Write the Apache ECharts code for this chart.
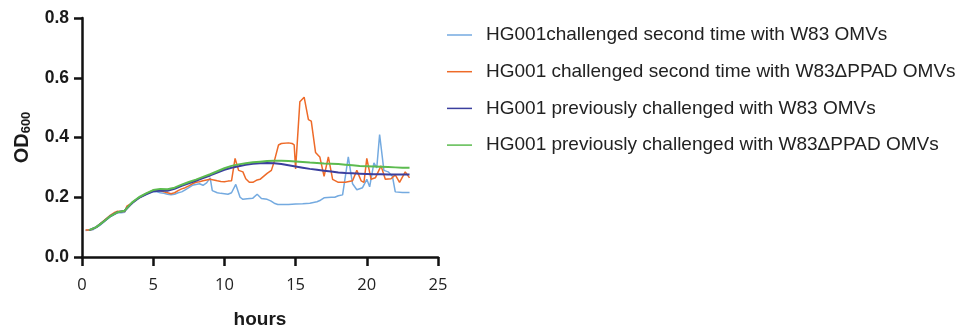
<!DOCTYPE html>
<html>
<head>
<meta charset="utf-8">
<script src="https://cdn.jsdelivr.net/npm/echarts@6/dist/echarts.min.js"></script>
<style>
  html, body { margin: 0; padding: 0; background: #ffffff; }
  #chart { width: 970px; height: 327px; }
</style>
</head>
<body>
<div id="chart"></div>
<script>
// series names (legend order)
const seriesNames = [
  "HG001challenged second time with W83 OMVs",
  "HG001 challenged second time with W83\u0394PPAD OMVs",
  "HG001 previously challenged with W83 OMVs",
  "HG001 previously challenged with W83\u0394PPAD OMVs",
];
const seriesColors = ["#74aae0", "#ee6a28", "#3b3f9e", "#5cbb4f"];

// noisy curves: sampled at irregular times (hours)
const hoursSecondW83 = [0.25, 0.5, 0.75, 1.0, 1.25, 1.5, 1.75, 2.0, 2.25, 2.5, 2.75, 3.0, 3.15, 3.25, 3.5, 3.75, 4.0, 4.25, 4.5, 4.75, 5.0, 5.25, 5.5, 5.75, 6.0, 6.25, 6.5, 6.75, 7.0, 7.25, 7.5, 7.75, 8.0, 8.25, 8.5, 8.75, 9.0, 9.15, 9.5, 9.75, 10.0, 10.25, 10.5, 10.8, 11.1, 11.3, 11.6, 12.0, 12.3, 12.6, 13.0, 13.25, 13.5, 13.75, 14.0, 14.5, 15.0, 15.5, 16.0, 16.5, 16.75, 17.0, 17.5, 17.75, 18.0, 18.3, 18.7, 19.0, 19.3, 19.7, 20.0, 20.2, 20.5, 20.7, 20.9, 21.2, 21.5, 21.8, 22.0, 22.5, 23.0];
const odSecondW83 = [0.089, 0.09, 0.091, 0.098, 0.106, 0.116, 0.126, 0.135, 0.142, 0.148, 0.148, 0.15, 0.168, 0.168, 0.178, 0.19, 0.198, 0.204, 0.21, 0.215, 0.218, 0.218, 0.215, 0.213, 0.21, 0.208, 0.21, 0.215, 0.218, 0.225, 0.232, 0.24, 0.243, 0.245, 0.24, 0.248, 0.265, 0.222, 0.215, 0.213, 0.212, 0.21, 0.215, 0.243, 0.2, 0.193, 0.195, 0.197, 0.21, 0.196, 0.193, 0.188, 0.18, 0.176, 0.176, 0.176, 0.177, 0.178, 0.18, 0.185, 0.19, 0.198, 0.2, 0.2, 0.205, 0.208, 0.335, 0.245, 0.225, 0.232, 0.26, 0.235, 0.315, 0.298, 0.41, 0.29, 0.285, 0.27, 0.218, 0.216, 0.216];

const hoursSecondPPAD = [0.25, 0.5, 0.75, 1.0, 1.25, 1.5, 1.75, 2.0, 2.25, 2.5, 2.75, 3.0, 3.15, 3.25, 3.5, 3.75, 4.0, 4.25, 4.5, 4.75, 5.0, 5.25, 5.5, 5.75, 6.0, 6.25, 6.5, 6.75, 7.0, 7.25, 7.5, 7.75, 8.0, 8.25, 8.5, 8.75, 9.0, 9.25, 9.5, 9.75, 10.0, 10.25, 10.5, 10.75, 11.0, 11.3, 11.5, 11.75, 12.0, 12.3, 12.5, 12.75, 13.0, 13.3, 13.5, 13.8, 14.0, 14.5, 14.75, 14.9, 15.0, 15.3, 15.6, 15.9, 16.1, 16.4, 16.7, 17.0, 17.3, 17.6, 18.0, 18.5, 19.0, 19.3, 19.6, 19.8, 20.0, 20.3, 20.6, 21.0, 21.3, 21.7, 22.0, 22.3, 22.7, 23.0];
const odSecondPPAD = [0.09, 0.09, 0.093, 0.1, 0.11, 0.12, 0.13, 0.14, 0.148, 0.153, 0.152, 0.152, 0.17, 0.172, 0.18, 0.19, 0.198, 0.205, 0.212, 0.218, 0.224, 0.225, 0.222, 0.218, 0.215, 0.212, 0.215, 0.222, 0.228, 0.232, 0.238, 0.245, 0.25, 0.252, 0.255, 0.258, 0.26, 0.258, 0.255, 0.253, 0.252, 0.254, 0.255, 0.33, 0.29, 0.285, 0.262, 0.25, 0.25, 0.258, 0.26, 0.27, 0.28, 0.29, 0.32, 0.375, 0.38, 0.382, 0.38, 0.375, 0.295, 0.52, 0.535, 0.46, 0.455, 0.35, 0.335, 0.27, 0.335, 0.26, 0.25, 0.25, 0.255, 0.29, 0.255, 0.25, 0.33, 0.26, 0.265, 0.305, 0.26, 0.262, 0.275, 0.25, 0.285, 0.265];

// smooth curves: every half hour
const hoursPrevious = [0.5, 1.0, 1.5, 2.0, 2.5, 3.0, 3.5, 4.0, 4.5, 5.0, 5.5, 6.0, 6.5, 7.0, 7.5, 8.0, 8.5, 9.0, 9.5, 10.0, 10.5, 11.0, 11.5, 12.0, 12.5, 13.0, 13.5, 14.0, 14.5, 15.0, 15.5, 16.0, 16.5, 17.0, 17.5, 18.0, 18.5, 19.0, 19.5, 20.0, 20.5, 21.0, 21.5, 22.0, 22.5, 23.0];
const odPreviousW83 = [0.09, 0.1, 0.118, 0.137, 0.15, 0.155, 0.18, 0.198, 0.21, 0.22, 0.222, 0.222, 0.228, 0.238, 0.247, 0.255, 0.264, 0.273, 0.283, 0.292, 0.299, 0.304, 0.309, 0.312, 0.314, 0.315, 0.314, 0.311, 0.307, 0.303, 0.299, 0.295, 0.292, 0.289, 0.286, 0.283, 0.281, 0.28, 0.279, 0.278, 0.277, 0.277, 0.276, 0.276, 0.276, 0.276];
const odPreviousPPAD = [0.09, 0.1, 0.118, 0.137, 0.15, 0.155, 0.182, 0.2, 0.213, 0.224, 0.228, 0.227, 0.232, 0.242, 0.251, 0.259, 0.268, 0.277, 0.287, 0.297, 0.305, 0.31, 0.314, 0.317, 0.319, 0.321, 0.322, 0.322, 0.321, 0.32, 0.318, 0.316, 0.315, 0.313, 0.312, 0.311, 0.309, 0.307, 0.305, 0.304, 0.303, 0.302, 0.301, 0.3, 0.299, 0.299];

const seriesHours = [hoursSecondW83, hoursSecondPPAD, hoursPrevious, hoursPrevious];
const seriesOD = [odSecondW83, odSecondPPAD, odPreviousW83, odPreviousPPAD];
const lineWidths = [1.5, 1.5, 2, 2];

const chart = echarts.init(document.getElementById("chart"));

const font = "'Liberation Sans', Arial, sans-serif";

const option = {
  backgroundColor: "#ffffff",
  animation: false,
  textStyle: { fontFamily: font },
  grid: {
    left: 82,
    right: 532,
    top: 18,
    bottom: 70,
    outerBoundsMode: "none",
  },
  legend: {
    orient: "vertical",
    left: 442,
    top: 19,
    icon: "rect",
    itemWidth: 25,
    itemHeight: 1.5,
    itemGap: 14.7,
    data: seriesNames,
    textStyle: {
      fontFamily: font,
      fontSize: 19,
      color: "#222222",
      lineHeight: 22,
      padding: [0, 0, 0, 9],
    },
  },
  xAxis: {
    type: "value",
    min: 0,
    max: 25,
    interval: 5,
    name: "hours",
    nameLocation: "middle",
    nameGap: 53,
    nameTextStyle: { fontFamily: font, fontSize: 19, fontWeight: "bold", color: "#1a1a1a" },
    axisLine: { onZero: false, lineStyle: { color: "#111", width: 2.5 } },
    axisTick: { show: true, length: 9, lineStyle: { color: "#111", width: 2.5 } },
    axisLabel: { fontFamily: "'Open Sans', sans-serif", fontSize: 16.5, color: "#222", margin: 20 },
    splitLine: { show: false },
  },
  yAxis: {
    type: "value",
    min: 0,
    max: 0.8,
    interval: 0.2,
    name: "{a|OD}{b|600}",
    nameLocation: "middle",
    nameRotate: 90,
    nameGap: 49,
    nameTextStyle: {
      rich: {
        a: { fontFamily: font, fontSize: 20, fontWeight: "bold", color: "#1a1a1a" },
        b: { fontFamily: font, fontSize: 13, fontWeight: "bold", color: "#1a1a1a", padding: [8, 0, 0, 0] },
      },
    },
    axisLine: { show: true, lineStyle: { color: "#111", width: 2.5 } },
    axisTick: { show: true, length: 8, lineStyle: { color: "#111", width: 2.5 } },
    axisLabel: {
      fontFamily: font,
      fontSize: 17.5,
      fontWeight: "bold",
      color: "#1a1a1a",
      margin: 13,
      formatter: (v) => v.toFixed(1),
    },
    splitLine: { show: false },
  },
  series: seriesNames.map((name, i) => ({
    name: name,
    type: "line",
    data: seriesHours[i].map((t, j) => [t, seriesOD[i][j]]),
    showSymbol: false,
    symbol: "none",
    color: seriesColors[i],
    lineStyle: { width: lineWidths[i], color: seriesColors[i] },
    z: 2 + i,
  })),
};

chart.setOption(option);
</script>
</body>
</html>
